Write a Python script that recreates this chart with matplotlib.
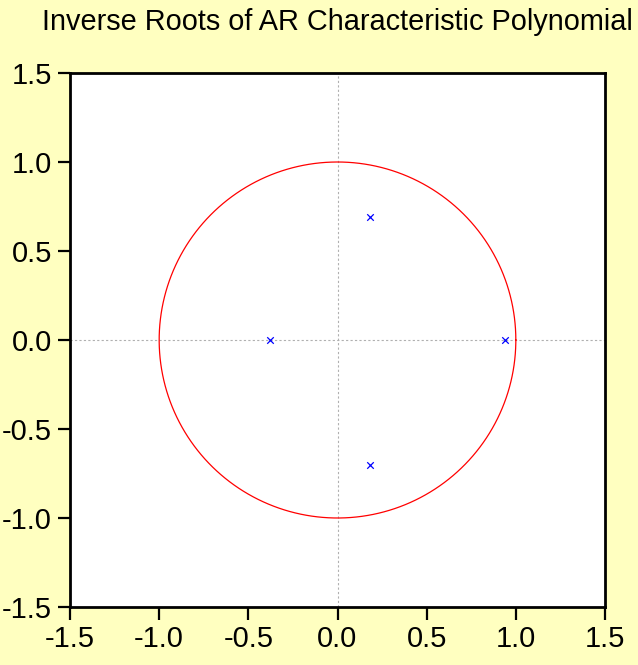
import matplotlib

matplotlib.use("Agg")
import matplotlib.pyplot as plt
import numpy as np

root_re = [-0.38, 0.18, 0.18, 0.94]
root_im = [0.0, 0.69, -0.70, 0.0]

ticks = [-1.5, -1.0, -0.5, 0.0, 0.5, 1.0, 1.5]
tick_labels = ["-1.5", "-1.0", "-0.5", "0.0", "0.5", "1.0", "1.5"]
title = "Inverse Roots of AR Characteristic Polynomial"

BG = "#FFFFC0"
FONT = "Liberation Sans"

fig = plt.figure(figsize=(6.38, 6.65), dpi=100, facecolor=BG)
ax = fig.add_axes([70 / 638, 1 - 607 / 665, 535 / 638, 534 / 665])
ax.set_facecolor("white")

# unit circle
t = np.linspace(0, 2 * np.pi, 400)
ax.plot(np.cos(t), np.sin(t), color="#FF0000", lw=0.9)

# zero lines
ax.axhline(0, color="#B0B0B0", lw=0.8, ls=(0, (2, 2)), zorder=1)
ax.axvline(0, color="#B0B0B0", lw=0.8, ls=(0, (2, 2)), zorder=1)

ax.scatter(root_re, root_im, marker="x", s=22, color="#0000FF", linewidths=0.9, zorder=3)

ax.set_xlim(-1.5, 1.5)
ax.set_ylim(-1.5, 1.5)
ax.set_xticks(ticks)
ax.set_yticks(ticks)
ax.set_xticklabels(tick_labels, fontsize=21, fontfamily=FONT)
ax.set_yticklabels(tick_labels, fontsize=21, fontfamily=FONT)
ax.tick_params(direction="out", length=9, width=1.6, pad=4)
for s in ax.spines.values():
    s.set_linewidth(2.0)

fig.text(0.529, 0.967, title, ha="center", va="center", fontsize=20.8, fontfamily=FONT)

fig.savefig("out.png", dpi=100, facecolor=BG)
